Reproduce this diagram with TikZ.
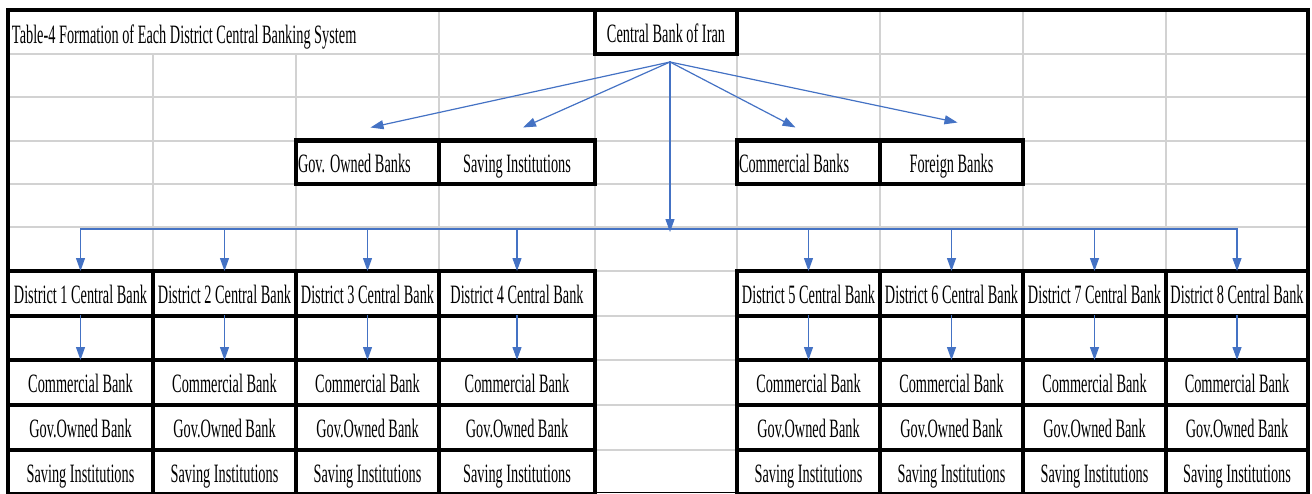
\documentclass[tikz,border=0pt]{standalone}
\usepackage{fontspec}
\setmainfont{Liberation Serif}[FakeStretch=0.54]
\usetikzlibrary{arrows.meta,calc}

\begin{document}
\begin{tikzpicture}[x=1pt,y=-1pt,line cap=rect,
  gridline/.style={line width=2.0pt, custcol_d2_d2_d2},
  framebox/.style={line width=4.5pt, custcol_0_0_0},
  cellbox/.style={draw, line width=4.5pt, custcol_0_0_0, inner sep=0, outer sep=0, minimum width=143pt, minimum height=44pt, text height=20pt, text depth=0pt, font=\fontsize{26.5pt}{26.5pt}\selectfont},
  leftcell/.style={cellbox, align=flush left, text width=139pt},
  titletext/.style={inner sep=0, outer sep=0, custcol_0_0_0, font=\fontsize{26.5pt}{26.5pt}\selectfont},
  linkline/.style={line width=1.2pt, custcol_44_72_c4},
  linkarrow/.style={linkline, -{Triangle[length=13pt,width=9pt]}}]
\useasboundingbox (0,0) rectangle (1312,493);
\definecolor{custcol_0_0_0}{RGB}{0, 0, 0}
\definecolor{custcol_d2_d2_d2}{RGB}{210, 210, 210}
\definecolor{custcol_44_72_c4}{RGB}{68, 114, 196}
% sheet grid
\draw [gridline] (8,54) -- (1308,54);
\draw [gridline] (8,97) -- (1308,97);
\draw [gridline] (8,140.5) -- (1308,140.5);
\draw [gridline] (8,184) -- (1308,184);
\draw [gridline] (8,227) -- (1308,227);
\draw [gridline] (8,271) -- (1308,271);
\draw [gridline] (8,316) -- (1308,316);
\draw [gridline] (8,360) -- (1308,360);
\draw [gridline] (8,405) -- (1308,405);
\draw [gridline] (8,450) -- (1308,450);
\draw [gridline] (153,54) -- (153,494);
\draw [gridline] (296,54) -- (296,494);
\draw [gridline] (439,10) -- (439,494);
\draw [gridline] (595,10) -- (595,494);
\draw [gridline] (737,10) -- (737,494);
\draw [gridline] (880,10) -- (880,494);
\draw [gridline] (1023,10) -- (1023,494);
\draw [gridline] (1166,10) -- (1166,494);
\draw [framebox] (8,494) -- (8,10) -- (1308,10) -- (1308,494);
\draw [line width=1.5pt, custcol_0_0_0] (8,492.5) -- (1308,492.5);
% top of the chart
\node[titletext, anchor=base west] (title) at (12,43) {Table-4 Formation of Each District Central Banking System};
\node[cellbox, minimum width=142pt] (cbi) at (666,32) {Central Bank of Iran};
\node[leftcell, minimum height=43.5pt] (govbanks) at (367.5,162.25) {Gov. Owned Banks};
\node[cellbox, minimum width=156pt, minimum height=43.5pt] (savinst) at (517,162.25) {Saving Institutions};
\node[leftcell, minimum height=43.5pt] (combanks) at (808.5,162.25) {Commercial Banks};
\node[cellbox, minimum height=43.5pt] (frnbanks) at (951.5,162.25) {Foreign Banks};
% district banks
\node[cellbox, minimum width=145pt, minimum height=45pt] (d1) at (80.5,293.5) {District 1 Central Bank};
\node[cellbox, minimum height=45pt] (d2) at (224.5,293.5) {District 2 Central Bank};
\node[cellbox, minimum height=45pt] (d3) at (367.5,293.5) {District 3 Central Bank};
\node[cellbox, minimum width=156pt, minimum height=45pt] (d4) at (517,293.5) {District 4 Central Bank};
\node[cellbox, minimum height=45pt] (d5) at (808.5,293.5) {District 5 Central Bank};
\node[cellbox, minimum height=45pt] (d6) at (951.5,293.5) {District 6 Central Bank};
\node[cellbox, minimum height=45pt] (d7) at (1094.5,293.5) {District 7 Central Bank};
\node[cellbox, minimum width=142pt, minimum height=45pt] (d8) at (1237,293.5) {District 8 Central Bank};
\node[cellbox, minimum width=145pt] (e1) at (80.5,338) {};
\node[cellbox] (e2) at (224.5,338) {};
\node[cellbox] (e3) at (367.5,338) {};
\node[cellbox, minimum width=156pt] (e4) at (517,338) {};
\node[cellbox] (e5) at (808.5,338) {};
\node[cellbox] (e6) at (951.5,338) {};
\node[cellbox] (e7) at (1094.5,338) {};
\node[cellbox, minimum width=142pt] (e8) at (1237,338) {};
\node[cellbox, minimum width=145pt, minimum height=45pt] (k1) at (80.5,382.5) {Commercial Bank};
\node[cellbox, minimum height=45pt] (k2) at (224.5,382.5) {Commercial Bank};
\node[cellbox, minimum height=45pt] (k3) at (367.5,382.5) {Commercial Bank};
\node[cellbox, minimum width=156pt, minimum height=45pt] (k4) at (517,382.5) {Commercial Bank};
\node[cellbox, minimum height=45pt] (k5) at (808.5,382.5) {Commercial Bank};
\node[cellbox, minimum height=45pt] (k6) at (951.5,382.5) {Commercial Bank};
\node[cellbox, minimum height=45pt] (k7) at (1094.5,382.5) {Commercial Bank};
\node[cellbox, minimum width=142pt, minimum height=45pt] (k8) at (1237,382.5) {Commercial Bank};
\node[cellbox, minimum width=145pt, minimum height=45pt] (g1) at (80.5,427.5) {Gov.Owned Bank};
\node[cellbox, minimum height=45pt] (g2) at (224.5,427.5) {Gov.Owned Bank};
\node[cellbox, minimum height=45pt] (g3) at (367.5,427.5) {Gov.Owned Bank};
\node[cellbox, minimum width=156pt, minimum height=45pt] (g4) at (517,427.5) {Gov.Owned Bank};
\node[cellbox, minimum height=45pt] (g5) at (808.5,427.5) {Gov.Owned Bank};
\node[cellbox, minimum height=45pt] (g6) at (951.5,427.5) {Gov.Owned Bank};
\node[cellbox, minimum height=45pt] (g7) at (1094.5,427.5) {Gov.Owned Bank};
\node[cellbox, minimum width=142pt, minimum height=45pt] (g8) at (1237,427.5) {Gov.Owned Bank};
\node[cellbox, minimum width=145pt] (s1) at (80.5,472) {Saving Institutions};
\node[cellbox] (s2) at (224.5,472) {Saving Institutions};
\node[cellbox] (s3) at (367.5,472) {Saving Institutions};
\node[cellbox, minimum width=156pt] (s4) at (517,472) {Saving Institutions};
\node[cellbox] (s5) at (808.5,472) {Saving Institutions};
\node[cellbox] (s6) at (951.5,472) {Saving Institutions};
\node[cellbox] (s7) at (1094.5,472) {Saving Institutions};
\node[cellbox, minimum width=142pt] (s8) at (1237,472) {Saving Institutions};
% arrows
\coordinate (hub) at ($(cbi.south)+(4,8)$);
\coordinate (bus) at (670,229);
\draw [linkarrow] (hub) -- ($(govbanks.north)+(3,-13)$);
\draw [linkarrow] (hub) -- ($(savinst.north)+(6,-13)$);
\draw [linkarrow] (hub) -- ($(combanks.north)+(-13,-13)$);
\draw [linkarrow] (hub) -- ($(frnbanks.north)+(6,-18)$);
\draw [linkarrow] (hub) -- ($(bus)+(0,3)$);
\draw [linkline] (d1.north |- bus) -- (d8.north |- bus);
\draw [linkarrow] (d1.north |- bus) -- (d1.north);
\draw [linkarrow] (d2.north |- bus) -- (d2.north);
\draw [linkarrow] (d3.north |- bus) -- (d3.north);
\draw [linkarrow] (d4.north |- bus) -- (d4.north);
\draw [linkarrow] (d5.north |- bus) -- (d5.north);
\draw [linkarrow] (d6.north |- bus) -- (d6.north);
\draw [linkarrow] (d7.north |- bus) -- (d7.north);
\draw [linkarrow] (d8.north |- bus) -- (d8.north);
\draw [linkarrow] (d1.south) -- (k1.north);
\draw [linkarrow] (d2.south) -- (k2.north);
\draw [linkarrow] (d3.south) -- (k3.north);
\draw [linkarrow] (d4.south) -- (k4.north);
\draw [linkarrow] (d5.south) -- (k5.north);
\draw [linkarrow] (d6.south) -- (k6.north);
\draw [linkarrow] (d7.south) -- (k7.north);
\draw [linkarrow] (d8.south) -- (k8.north);
\end{tikzpicture}
\end{document}
